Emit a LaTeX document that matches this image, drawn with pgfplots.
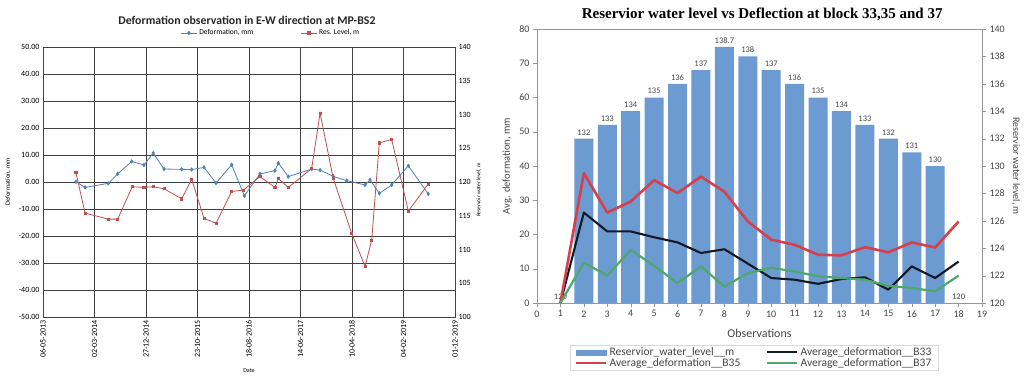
\documentclass[border=0pt]{standalone}
\usepackage{fontspec}
\setmainfont{Carlito}
\newfontfamily\timesfont{Liberation Serif}
\usepackage{pgfplots}
\pgfplotsset{compat=1.18}
\pgfplotsset{every axis title shift=0pt}

\definecolor{defblue}{RGB}{79,129,189}
\definecolor{reslred}{RGB}{192,80,77}
\definecolor{barblue}{RGB}{108,155,210}
\definecolor{bredline}{RGB}{214,64,76}
\definecolor{bblackline}{RGB}{20,24,36}
\definecolor{bgreenline}{RGB}{78,168,108}
\definecolor{axgray}{RGB}{150,150,150}
\definecolor{txtgray}{RGB}{70,70,70}

\begin{document}
\begin{tikzpicture}
\fill[white] (0pt,0pt) rectangle (1024pt,376pt);
\useasboundingbox (0pt,0pt) rectangle (1024pt,376pt);

% ---------- Left chart: deformation (left axis) ----------
\begin{axis}[
  at={(43pt,59pt)}, anchor=south west,
  scale only axis, width=412pt, height=270pt,
  xmin=0, xmax=2400, ymin=-50, ymax=50,
  xtick={0,300,...,2400},
  xticklabels={06-05-2013,02-03-2014,27-12-2014,23-10-2015,18-08-2016,14-06-2017,10-04-2018,04-02-2019,01-12-2019},
  xticklabel style={rotate=90, anchor=east, font=\fontsize{8}{9}\selectfont},
  ytick={-50,-40,...,50},
  yticklabel style={font=\fontsize{8}{9}\selectfont},
  y tick label style={/pgf/number format/fixed, /pgf/number format/fixed zerofill, /pgf/number format/precision=2},
  xtick pos=bottom, ytick pos=left,
  major tick length=0pt,
  grid=major, major grid style={black!75, line width=0.7pt},
  axis line style={black!75, line width=0.7pt},
  /pgf/number format/assume math mode=true,
  xlabel={Date},
  xlabel style={font=\fontsize{6}{7}\selectfont, at={(axis description cs:0.5,-0.2)}, anchor=center},
  ylabel={Deformation, mm},
  ylabel style={font=\fontsize{6.5}{7}\selectfont, at={(axis description cs:-0.085,0.5)}, anchor=center},
  title={\bfseries Deformation observation in E-W direction at MP-BS2},
  title style={font=\fontsize{11.8}{13}\selectfont, text=black!85, at={(axis description cs:0.495,1.1)}, anchor=center},
  legend columns=2,
  legend style={draw=none, fill=none, at={(axis description cs:0.553,1.052)}, anchor=center,
    font=\fontsize{7.5}{8}\selectfont, /tikz/every even column/.append style={column sep=45pt}},
  legend image code/.code={\draw[#1, mark repeat=2, mark phase=2] plot coordinates {(0pt,0pt) (8pt,0pt) (16pt,0pt)};},
]
\addplot[defblue, line width=0.8pt, mark=diamond*, mark size=1.6pt] coordinates {
  (192,0.1) (245,-2.0) (380,-0.5) (435,3.0) (517,7.6) (588,6.3) (642,10.7)
  (705,4.8) (808,4.7) (866,4.6) (938,5.4) (1008,-0.4) (1099,6.4) (1173,-5.1)
  (1264,3.0) (1351,4.2) (1371,7.0) (1429,2.0) (1565,4.8) (1614,4.4) (1691,2.1)
  (1769,0.5) (1876,-1.1) (1905,0.8) (1959,-4.2) (2031,-1.1) (2128,6.0) (2244,-4.4)
};
\addlegendentry{Deformation, mm}
\addlegendimage{reslred, line width=0.8pt, mark=square*, mark size=1.1pt}
\addlegendentry{Res. Level, m}
\end{axis}

% ---------- Left chart: reservoir level (right axis) ----------
\begin{axis}[
  at={(43pt,59pt)}, anchor=south west,
  scale only axis, width=412pt, height=270pt,
  xmin=0, xmax=2400, ymin=100, ymax=140,
  axis x line=none, axis y line*=right,
  axis line style={black!75, line width=0.7pt, -},
  ytick={100,105,...,140},
  major tick length=0pt,
  yticklabel style={font=\fontsize{8}{9}\selectfont},
  /pgf/number format/assume math mode=true,
  ylabel={Reservoir water level, m},
  ylabel style={font=\fontsize{5.5}{6}\selectfont, at={(axis description cs:1.058,0.47)}, anchor=center},
]
\addplot[reslred, line width=0.8pt, mark=square*, mark size=1.1pt] coordinates {
  (192,121.4) (245,115.4) (380,114.5) (435,114.5) (520,119.3) (588,119.2) (642,119.3)
  (705,119.0) (808,117.5) (866,120.4) (938,114.6) (1008,113.9) (1099,118.6) (1167,118.8)
  (1264,120.8) (1351,119.2) (1371,120.5) (1429,119.2) (1565,122.0) (1614,130.2) (1691,120.5)
  (1798,112.4) (1876,107.5) (1915,111.4) (1959,125.8) (2031,126.3) (2128,115.7) (2244,119.7)
};
\end{axis}

% ---------- Right chart: reservoir level bars (right axis) ----------
\begin{axis}[
  at={(537pt,73pt)}, anchor=south west,
  scale only axis, width=445pt, height=274pt,
  xmin=0, xmax=19, ymin=120, ymax=140,
  axis x line=none, axis y line*=right,
  axis line style={axgray, -}, tick style={axgray},
  tick align=outside, major tick length=4pt,
  ytick={120,122,...,140},
  yticklabel style={font=\fontsize{10}{12}\selectfont, text=txtgray},
  /pgf/number format/assume math mode=true,
  ylabel={Reservior water level, m},
  ylabel style={font=\fontsize{10}{12}\selectfont, text=txtgray, rotate=180, at={(axis description cs:1.076,0.5)}, anchor=center},
  ybar, bar width=19pt,
  nodes near coords,
  nodes near coords style={font=\fontsize{8.5}{9}\selectfont, text=txtgray},
  title={\timesfont\bfseries Reservior water level vs Deflection at block 33,35 and 37},
  title style={font=\fontsize{15}{17}\selectfont, at={(axis description cs:0.506,1.055)}, anchor=center},
]
\addplot[fill=barblue, draw=none] coordinates {
  (1,120) (2,132) (3,133) (4,134) (5,135) (6,136) (7,137) (8,138.7) (9,138)
  (10,137) (11,136) (12,135) (13,134) (14,133) (15,132) (16,131) (17,130) (18,120)
};
\end{axis}

% ---------- Right chart: average deformation lines (left axis) ----------
\begin{axis}[
  at={(537pt,73pt)}, anchor=south west,
  scale only axis, width=445pt, height=274pt,
  xmin=0, xmax=19, ymin=0, ymax=80,
  axis y line*=left, axis x line*=bottom,
  axis line style={axgray, -}, tick style={axgray},
  tick align=outside, major tick length=4pt,
  xtick={0,1,...,19}, ytick={0,10,...,80},
  ticklabel style={font=\fontsize{10}{12}\selectfont, text=txtgray},
  /pgf/number format/assume math mode=true,
  xlabel={Observations},
  xlabel style={font=\fontsize{12}{14}\selectfont, text=txtgray, at={(axis description cs:0.5,-0.11)}, anchor=center},
  ylabel={Avg. deformation, mm},
  ylabel style={font=\fontsize{10.5}{12}\selectfont, text=txtgray, at={(axis description cs:-0.067,0.5)}, anchor=center},
  legend columns=2,
  legend cell align=left,
  legend style={at={(axis description cs:0.488,-0.153)}, anchor=north,
    draw=black!15, fill=white, font=\fontsize{11.5}{12}\selectfont, text=txtgray,
    inner xsep=5pt, inner ysep=0.5pt, row sep=-3pt,
    /tikz/every even column/.append style={column sep=24pt}},
  legend image code/.code={\draw[#1] (0pt,0pt) -- (30pt,0pt);},
]
\draw[axgray] (rel axis cs:0,1) -- (rel axis cs:1,1);
\addlegendimage{legend image code/.code={\fill[barblue] (0pt,-2.5pt) rectangle (30pt,2.5pt);}}
\addlegendentry{Reservior\_water\_level\_\_m}
\addplot[bblackline, line width=2.1pt, line join=round] coordinates {
  (1,0) (2,26.4) (3,20.9) (4,20.9) (5,19.2) (6,17.7) (7,14.6) (8,15.7) (9,11.5)
  (10,7.3) (11,6.8) (12,5.6) (13,7.0) (14,7.5) (15,3.9) (16,10.7) (17,7.3) (18,12.1)
};
\addlegendentry{Average\_deformation\_\_B33}
\addplot[bredline, line width=2.6pt, line join=round] coordinates {
  (1,0) (2,37.9) (3,26.4) (4,29.6) (5,35.9) (6,32.1) (7,36.9) (8,32.5) (9,23.8)
  (10,18.5) (11,17.0) (12,14.1) (13,13.9) (14,16.3) (15,14.8) (16,17.7) (17,16.2) (18,23.8)
};
\addlegendentry{Average\_deformation\_\_B35}
\addplot[bgreenline, line width=2.2pt, line join=round] coordinates {
  (1,0) (2,11.8) (3,8.0) (4,15.5) (5,10.9) (6,5.8) (7,10.7) (8,4.8) (9,8.7)
  (10,10.3) (11,9.2) (12,7.8) (13,7.3) (14,6.8) (15,5.0) (16,4.4) (17,3.4) (18,8.0)
};
\addlegendentry{Average\_deformation\_\_B37}
\end{axis}
\end{tikzpicture}
\end{document}
